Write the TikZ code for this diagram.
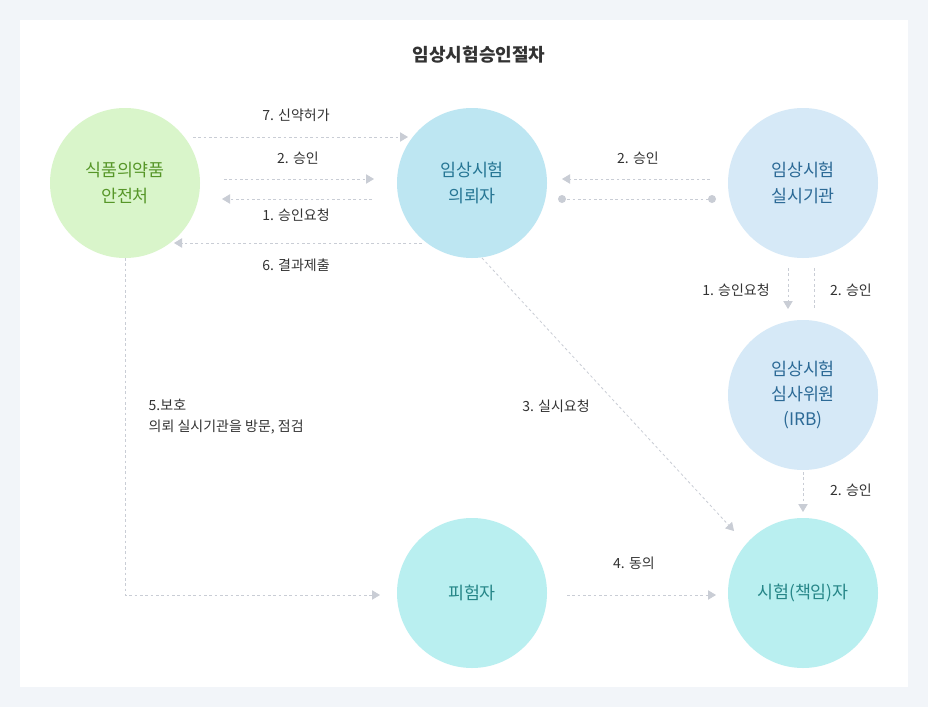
\documentclass[tikz,border=0pt]{standalone}
\usepackage{fontspec}
\setmainfont{Noto Sans CJK KR}
\usetikzlibrary{arrows.meta}
\definecolor{bgc}{HTML}{F2F5F9}
\definecolor{lc}{HTML}{C9CDD5}
\definecolor{tc}{HTML}{333333}
\tikzset{
 x=0.75pt,y=-0.75pt,
 circ/.style={circle,minimum size=112.5pt,inner sep=0pt,align=center,font=\fontsize{13}{19}\selectfont},
 lab/.style={font=\fontsize{10.5}{15}\selectfont,text=tc},
 conn/.style={draw=lc,dash pattern=on 2pt off 2pt,line width=0.6pt,-{Triangle[length=6pt,width=7pt,fill=lc]}},
 plain/.style={draw=lc,dash pattern=on 2pt off 2pt,line width=0.6pt},
}
\begin{document}
\begin{tikzpicture}
\fill[bgc] (0,0) rectangle (928,707);
\fill[white] (20,20) rectangle (908,687);
\node[font=\fontsize{13.5}{16}\selectfont\bfseries,text=tc] (title) at (479,55) {임상시험승인절차};
\node[circ,fill={rgb,255:red,217;green,245;blue,202},text={rgb,255:red,86;green,150;blue,40}] (fda) at (125,183) {식품의약품\\안전처};
\node[circ,fill={rgb,255:red,189;green,230;blue,242},text={rgb,255:red,38;green,118;blue,148}] (sp) at (472,183) {임상시험\\의뢰자};
\node[circ,fill={rgb,255:red,214;green,233;blue,247},text={rgb,255:red,44;green,106;blue,150}] (inst) at (803,183) {임상시험\\실시기관};
\node[circ,fill={rgb,255:red,214;green,233;blue,247},text={rgb,255:red,44;green,106;blue,150}] (irb) at (803,395) {임상시험\\심사위원\\(IRB)};
\node[circ,fill={rgb,255:red,185;green,239;blue,240},text={rgb,255:red,38;green,134;blue,136}] (subj) at (472,593) {피험자};
\node[circ,fill={rgb,255:red,185;green,239;blue,240},text={rgb,255:red,38;green,134;blue,136}] (inv) at (803,593) {시험(책임)자};
% coordinates
\coordinate (a1) at (193,137); \coordinate (a2) at (408,137);
\coordinate (b1) at (224,179); \coordinate (b2) at (374,179);
\coordinate (c1) at (372,199); \coordinate (c2) at (222,199);
\coordinate (d1) at (422,243); \coordinate (d2) at (174,243);
\coordinate (e1) at (710,179); \coordinate (e2) at (562,179);
\coordinate (f1) at (562,199); \coordinate (f2) at (712,199);
\coordinate (g1) at (788,268); \coordinate (g2) at (788,309);
\coordinate (h1) at (814,268); \coordinate (h2) at (814,310);
\coordinate (i1) at (803,472); \coordinate (i2) at (803,512);
\coordinate (j1) at (482,258); \coordinate (j2) at (734,531);
\coordinate (k1) at (567,595); \coordinate (k2) at (716,595);
\coordinate (m1) at (125,258); \coordinate (m2) at (125,595); \coordinate (m3) at (380,595);
\draw[conn] (a1) -- (a2);
\draw[conn] (b1) -- (b2);
\draw[conn] (c1) -- (c2);
\draw[conn] (d1) -- (d2);
\draw[conn] (e1) -- (e2);
\draw[plain] (f1) -- (f2);
\fill[lc] (f1) circle (3pt) (f2) circle (3pt);
\draw[conn] (g1) -- (g2);
\draw[plain] (h1) -- (h2);
\draw[conn] (i1) -- (i2);
\draw[conn] (j1) -- (j2);
\draw[conn] (k1) -- (k2);
\draw[conn] (m1) -- (m2) -- (m3);
% labels
\node[lab] (l7) at (296,115) {7. 신약허가};
\node[lab] (l2a) at (298,158) {2. 승인};
\node[lab] (l1a) at (296,215) {1. 승인요청};
\node[lab] (l6) at (296,265) {6. 결과제출};
\node[lab] (l2b) at (638,158) {2. 승인};
\node[lab] (l1b) at (736,290) {1. 승인요청};
\node[lab] (l2c) at (851,290) {2. 승인};
\node[lab] (l2d) at (851,490) {2. 승인};
\node[lab] (l3) at (556,406) {3. 실시요청};
\node[lab] (l4) at (634,563) {4. 동의};
\node[lab,anchor=west] (l5a) at (144,405) {5.보호};
\node[lab,anchor=west] (l5b) at (144,427) {의뢰 실시기관을 방문, 점검};
\end{tikzpicture}
\end{document}
